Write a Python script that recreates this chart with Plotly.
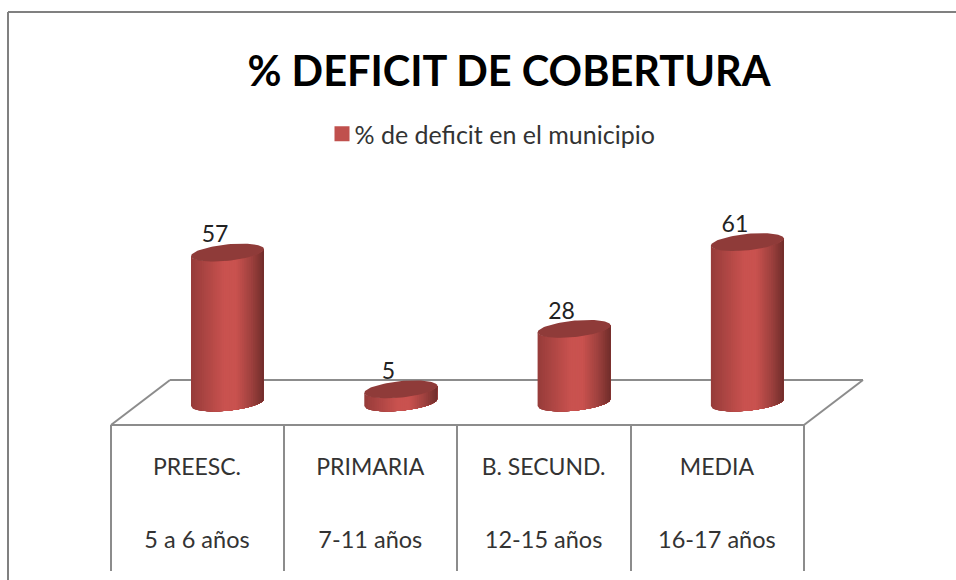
import numpy as np
import plotly.graph_objects as go

# --- data ---
title_text = "% DEFICIT DE COBERTURA"
series_name = "% de deficit en el municipio"
levels = ["PREESC.", "PRIMARIA", "B. SECUND.", "MEDIA"]
ages = ["5 a 6 años", "7-11 años", "12-15 años", "16-17 años"]
values = [57, 5, 28, 61]

# --- pixel frame ---
W, H = 956, 580
X0, DX = 227.5, 173.3   # pixel of category 0, pixels per category
Y0, DY = 402.5, 2.63    # pixel of value 0, pixels per value unit
xr = [(0 - X0) / DX, (W - X0) / DX]
yr = [(Y0 - H) / DY, Y0 / DY]

HW = 36.5 / DX      # half cylinder width in category units
TILT = 3.5 / DY     # ellipse skew in value units
B = 8.2 / DY        # ellipse half height in value units
GREY = "#8c8c8c"


def hexmix(a, b, t):
    return tuple(a[i] + (b[i] - a[i]) * t for i in range(3))


STOPS = [(0.0, (150, 60, 58)), (0.12, (164, 66, 64)), (0.45, (201, 82, 79)),
         (0.62, (201, 82, 79)), (0.82, (160, 66, 63)), (1.0, (112, 45, 43))]


def grad(t):
    for (t0, c0), (t1, c1) in zip(STOPS, STOPS[1:]):
        if t <= t1:
            c = hexmix(c0, c1, (t - t0) / (t1 - t0))
            return "rgb(%d,%d,%d)" % c
    return "rgb(112,45,43)"


fig = go.Figure()

N = 40
for i, v in enumerate(values):
    edges = np.linspace(-1, 1, N + 1)
    for k in range(N):
        u = np.linspace(edges[k], 1, 40)
        s = np.sqrt(np.clip(1 - u ** 2, 0, 1))
        xs = i + HW * u
        top = v + TILT * u - B * s
        bot = TILT * u - B * s
        fig.add_trace(go.Scatter(
            x=np.r_[xs, xs[::-1]], y=np.r_[top, bot[::-1]],
            mode="lines", fill="toself", fillcolor=grad((k + 0.5) / N),
            line=dict(width=0), showlegend=False, hoverinfo="skip"))
    a = np.linspace(0, 2 * np.pi, 90)
    fig.add_trace(go.Scatter(
        x=i + HW * np.cos(a), y=v + TILT * np.cos(a) + B * np.sin(a),
        mode="lines", fill="toself", fillcolor="#8f3b39",
        line=dict(width=0), showlegend=False, hoverinfo="skip"))

# data labels
fig.add_trace(go.Scatter(
    x=[i - 12.5 / DX for i in range(len(values))],
    y=[v + 16 / DY for v in values],
    text=[str(v) for v in values], mode="text",
    textfont=dict(family="Lato", size=23, color="#222222"),
    showlegend=False, hoverinfo="skip"))

# category table labels
cx = [i - 30.5 / DX for i in range(len(levels))]
fig.add_trace(go.Scatter(
    x=cx, y=[(Y0 - 469) / DY] * len(levels), text=levels, mode="text",
    textfont=dict(family="Lato", size=23, color="#333333"),
    showlegend=False, hoverinfo="skip"))
fig.add_trace(go.Scatter(
    x=cx, y=[(Y0 - 542) / DY] * len(ages), text=ages, mode="text",
    textfont=dict(family="Lato", size=23.5, color="#333333"),
    showlegend=False, hoverinfo="skip"))

# legend entry
fig.add_trace(go.Scatter(
    x=[None], y=[None], mode="markers", name=series_name,
    marker=dict(symbol="square", size=15, color="#c0504d"),
    showlegend=True, hoverinfo="skip"))


def seg(x0, y0, x1, y1, color=GREY, w=2):
    return dict(type="line", xref="paper", yref="paper", layer="below",
                x0=x0 / W, y0=1 - y0 / H, x1=x1 / W, y1=1 - y1 / H,
                line=dict(color=color, width=w))


shapes = [seg(8, 12, 956, 12, "#808080", 2), seg(8, 12, 8, 580, "#808080", 2)]
for a, b, c, d in [(111, 425, 804, 425), (111, 425, 170, 380), (170, 380, 863, 380), (863, 380, 804, 425)]:
    shapes.append(seg(a, b, c, d))
for x in (111, 284, 457, 631, 804):
    shapes.append(seg(x, 425, x, 571))

fig.update_layout(
    width=W, height=H, autosize=False,
    margin=dict(l=0, r=0, t=0, b=0, pad=0),
    paper_bgcolor="white", plot_bgcolor="white",
    xaxis=dict(range=xr, visible=False, fixedrange=True),
    yaxis=dict(range=yr, visible=False, fixedrange=True),
    shapes=shapes,
    title=dict(text="<b>" + title_text + "</b>", x=509 / W, xanchor="center",
               y=1 - 71 / H, yanchor="middle", xref="paper", yref="paper",
               font=dict(family="Lato", size=41.5, color="#000000")),
    legend=dict(x=325.5 / W, y=1 - 134 / H, xanchor="left", yanchor="middle",
                bgcolor="rgba(0,0,0,0)", borderwidth=0, indentation=-11,
                font=dict(family="Lato", size=25, color="#333333")),
    showlegend=True,
)

# nudge the legend swatch closer to its text (Plotly's minimum item width is wider than the original gap)
nudge = """
document.body.style.margin='0';document.body.style.overflow='hidden';
function nudgeSwatch(){
  document.querySelectorAll('.legend .legendpoints').forEach(function(g){
    if(!g.dataset.nudged){
      g.dataset.nudged='1';
      g.setAttribute('transform',(g.getAttribute('transform')||'')+' translate(7.5,0)');
    }
  });
}
nudgeSwatch();setTimeout(nudgeSwatch,50);
"""
fig.write_html("out.html", config={"displayModeBar": False}, post_script=nudge)
